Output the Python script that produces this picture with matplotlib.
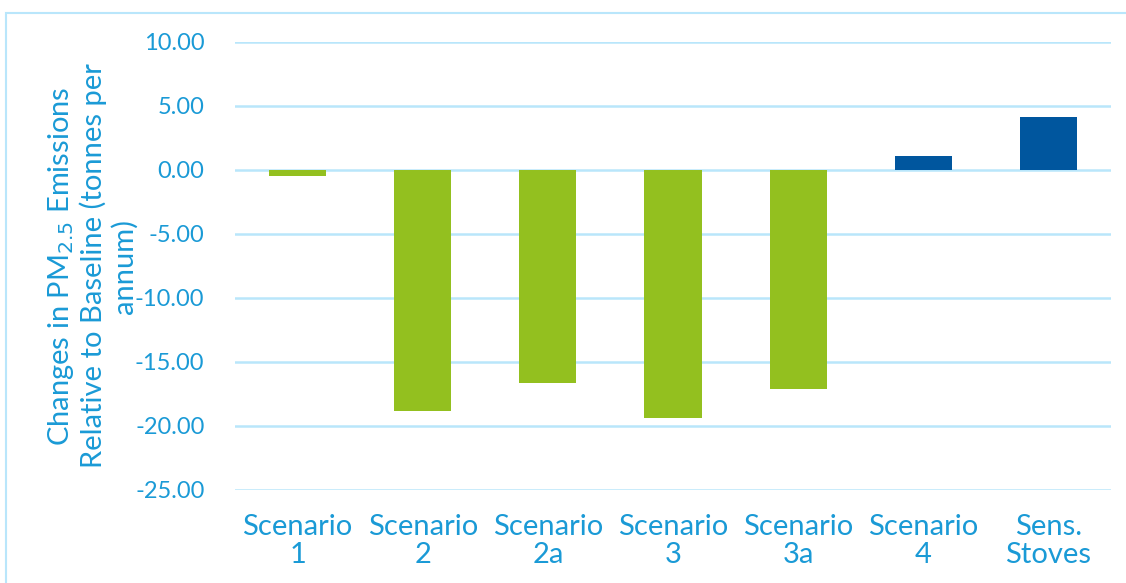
from matplotlib import pyplot as plt
from matplotlib.patches import Rectangle
import numpy as np

categories = ["Scenario\n1", "Scenario\n2", "Scenario\n2a", "Scenario\n3",
              "Scenario\n3a", "Scenario\n4", "Sens.\nStoves"]
values = [-0.47, -18.83, -16.64, -19.35, -17.08, 1.12, 4.17]
yticks = [10, 5, 0, -5, -10, -15, -20, -25]

text_blue = "#1a9ad6"
grid_blue = "#b9e6fb"
green = "#93c01f"
navy = "#00569e"

plt.rcParams["font.family"] = ["Lato", "DejaVu Sans"]

fig = plt.figure(figsize=(11.26, 5.83), dpi=100)
ax = fig.add_axes([235 / 1126, 1 - 490 / 583, 876 / 1126, 448 / 583])

x = np.arange(len(categories))
colors = [navy if v > 0 else green for v in values]
ax.bar(x, values, width=0.456, color=colors, zorder=3)

ax.set_ylim(-25, 10)
ax.set_xlim(-0.5, len(categories) - 0.5)
ax.set_yticks(yticks)
ax.set_yticklabels([f"{t:.2f}" for t in yticks])
ax.set_xticks(x)
ax.set_xticklabels(categories, linespacing=1.1)
ax.tick_params(axis="y", length=0, pad=22, labelsize=17, labelcolor=text_blue)
ax.tick_params(axis="x", length=0, pad=17, labelsize=21, labelcolor=text_blue)
ax.yaxis.grid(True, color=grid_blue, linewidth=1.8, zorder=0)
for s in ax.spines.values():
    s.set_visible(False)

fig.text(92 / 1126, 1 - 266 / 583,
         "Changes in PM$_{2.5}$ Emissions\nRelative to Baseline (tonnes per\nannum)",
         rotation=90, ha="center", va="center", fontsize=21, color=text_blue,
         linespacing=1.15, multialignment="center")

fig.patches.append(Rectangle((6 / 1126, -0.1), 1.2, 1.1 - 13 / 583,
                             transform=fig.transFigure, fill=False,
                             edgecolor=grid_blue, linewidth=1.5))

fig.savefig("out.png", dpi=100)
